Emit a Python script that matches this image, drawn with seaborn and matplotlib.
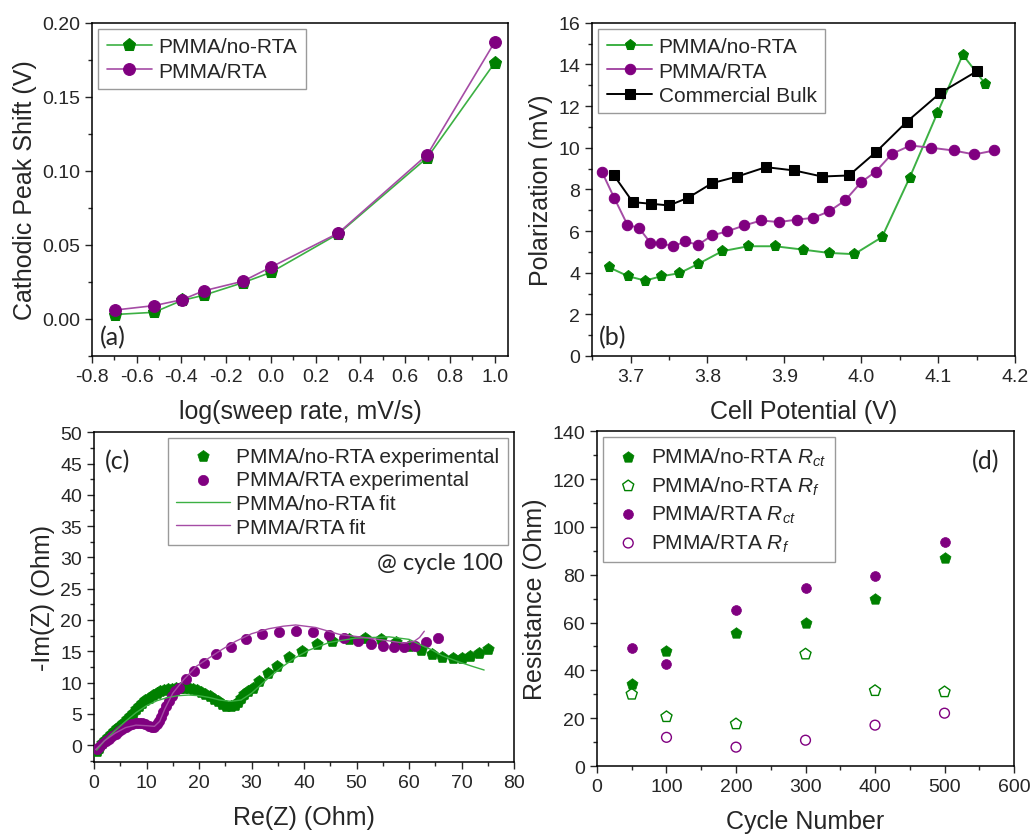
import matplotlib
matplotlib.use("Agg")
import matplotlib.pyplot as plt
from matplotlib.ticker import MultipleLocator
import seaborn as sns

#---------------------------------------------------------------------------------
#  Data
#---------------------------------------------------------------------------------
# (a) cathodic peak shift vs log(sweep rate)
logRate=[-0.699,-0.523,-0.398,-0.301,-0.125,0.0,0.301,0.699,1.0]
shiftNoRTA=[0.003,0.0045,0.0125,0.016,0.0245,0.0315,0.0575,0.109,0.173]
shiftRTA=[0.006,0.009,0.013,0.019,0.0255,0.035,0.058,0.111,0.187]

# (b) polarization vs cell potential
potNoRTA=[3.672,3.697,3.719,3.740,3.763,3.788,3.819,3.853,3.888,3.924,3.958,3.991,4.027,4.063,4.099,4.132,4.161]
polNoRTA=[4.26,3.83,3.62,3.83,3.97,4.42,5.03,5.27,5.27,5.11,4.95,4.89,5.71,8.57,11.67,14.47,13.08]
potRTA=[3.663,3.679,3.696,3.711,3.726,3.740,3.755,3.771,3.788,3.806,3.826,3.848,3.870,
        3.893,3.916,3.937,3.958,3.979,4.000,4.019,4.040,4.064,4.091,4.120,4.147,4.173]
polRTA=[8.83,7.58,6.30,6.15,5.43,5.43,5.26,5.50,5.34,5.79,5.99,6.27,6.51,
        6.43,6.55,6.63,6.94,7.47,8.35,8.86,9.71,10.11,10.00,9.87,9.68,9.87]
potBulk=[3.678,3.703,3.727,3.750,3.775,3.806,3.839,3.876,3.913,3.949,3.984,4.019,4.059,4.103,4.150]
polBulk=[8.70,7.39,7.31,7.23,7.60,8.30,8.62,9.07,8.91,8.62,8.67,9.79,11.24,12.64,13.67]

# (c) Nyquist plot at cycle 100
reNoRTA=[0.5,1.0,1.5,2.0,2.6,3.2,3.8,4.4,5.0,5.6,6.2,6.8,7.4,8.0,8.6,9.2,9.8,10.5,11.2,11.9,
         12.6,13.3,14.0,14.8,15.6,16.4,17.2,18.0,18.8,19.6,20.4,21.2,22.0,22.8,23.6,24.4,25.2,
         26.0,26.8,27.4,28.0,28.6,29.3,30.2,31.5,33.2,34.9,37.1,39.7,42.5,45.4,48.5,51.6,54.6,
         57.5,60.0,62.2,64.3,66.3,68.3,70.0,71.6,73.3,75.1]
imNoRTA=[-0.9,-0.4,0.3,0.8,1.3,1.8,2.2,2.7,3.1,3.6,4.1,4.7,5.2,5.7,6.3,6.8,7.2,7.6,8.0,8.3,
         8.6,8.8,8.9,9.0,9.1,9.2,9.2,9.1,9.0,8.8,8.5,8.2,7.8,7.4,7.0,6.6,6.3,
         6.2,6.4,6.9,7.5,8.1,8.7,9.2,10.3,11.5,12.7,14.1,15.1,16.1,16.6,17.0,17.1,16.9,
         16.5,15.8,15.2,14.6,14.1,13.9,14.0,14.3,14.8,15.4]
reRTA=[0.5,1.0,1.6,2.2,2.9,3.5,4.1,4.7,5.4,6.0,6.7,7.3,7.9,8.5,9.2,9.8,10.5,11.0,11.5,12.0,
       12.4,12.8,13.2,13.7,14.2,14.8,15.5,16.2,17.5,19.0,21.0,23.2,26.0,28.9,31.9,35.2,38.5,
       41.7,44.8,47.7,50.2,52.7,55.0,57.1,59.0,61.1,63.2,65.6]
imRTA=[-0.6,-0.3,0.2,0.6,1.0,1.4,1.8,2.2,2.5,2.9,3.2,3.4,3.5,3.5,3.5,3.3,3.1,2.9,2.9,3.3,
       3.8,4.5,5.3,6.2,7.0,7.8,8.6,9.2,10.5,11.8,13.2,14.6,15.7,16.9,17.7,18.1,18.2,
       18.1,17.6,17.1,16.7,16.2,15.8,15.7,15.7,15.8,16.4,17.1]
reFitNoRTA=[0.5,2.0,4.0,6.0,8.0,10.0,12.0,14.0,16.0,18.0,20.0,22.0,24.0,26.0,28.0,30.0,33.3,
            36.0,38.4,41.0,44.8,49.8,56.2,60.0,62.5,64.4,66.3,69.5,72.0,74.3]
imFitNoRTA=[-0.8,0.7,2.3,3.8,5.2,6.3,7.1,7.6,7.9,8.0,7.9,7.6,7.2,7.0,7.2,8.3,10.8,
            12.6,14.0,15.2,16.4,17.1,17.3,16.9,15.9,15.2,14.3,13.3,12.6,12.0]
reFitRTA=[0.3,2.0,4.0,6.0,8.0,10.0,11.5,12.5,13.5,15.0,17.0,19.5,21.3,24.4,27.0,30.0,33.3,
          36.0,38.4,42.2,46.7,50.5,55.0,59.0,61.0,62.0,62.9]
imFitRTA=[-0.7,0.7,1.9,2.8,3.2,3.1,3.0,3.8,5.8,8.3,10.4,12.6,13.6,15.3,16.6,17.8,18.6,
          19.0,19.2,18.8,17.7,17.3,16.8,16.3,16.6,17.2,18.2]

# (d) resistances vs cycle number
cycles=[50,100,200,300,400,500]
rctNoRTA=[34.5,48.0,55.5,60.0,69.8,87.0]
rfNoRTA=[30.0,20.6,17.6,46.8,31.5,31.0]
rctRTA=[49.5,42.5,65.2,74.3,79.4,93.6]
cyclesRfRTA=[100,200,300,400,500]
rfRTA=[12.0,7.9,10.8,17.1,22.1]

GREEN="#008000"
PURPLE="#800080"
GREEN_LINE="#3cb043"
PURPLE_LINE="#a54ca5"
TEXT_FONT=["Lato","DejaVu Sans"]

#---------------------------------------------------------------------------------
#  Common axis styling
#---------------------------------------------------------------------------------
def styleAxis(ax,xMajor,xMinor,yMajor,yMinor):
    ax.xaxis.set_major_locator(MultipleLocator(xMajor))
    ax.xaxis.set_minor_locator(MultipleLocator(xMinor))
    ax.yaxis.set_major_locator(MultipleLocator(yMajor))
    ax.yaxis.set_minor_locator(MultipleLocator(yMinor))
    ax.tick_params(which="both",direction="out",top=False,right=False,labelsize=14,width=1.0)
    ax.tick_params(which="major",length=5)
    ax.tick_params(which="minor",length=3)
    for spine in ax.spines.values():
        spine.set_visible(True)
        spine.set_linewidth(1.1)
        spine.set_color("black")

def addLegend(ax,handleLength=2.2,**kw):
    leg=ax.legend(fontsize=15,frameon=True,fancybox=False,framealpha=1,edgecolor="#9a9a9a",
                  handlelength=handleLength,handletextpad=0.3,borderaxespad=0.3,**kw)
    leg.get_frame().set_linewidth(1.0)
    return leg

#---------------------------------------------------------------------------------
#  Panel (a)
#---------------------------------------------------------------------------------
def plotPeakShift(ax):
    sns.lineplot(x=logRate,y=shiftNoRTA,ax=ax,color=GREEN_LINE,lw=1.2,marker="p",markersize=9.5,
                 markerfacecolor=GREEN,markeredgecolor=GREEN,label="PMMA/no-RTA")
    sns.lineplot(x=logRate,y=shiftRTA,ax=ax,color=PURPLE_LINE,lw=1.2,marker="o",markersize=8.5,
                 markerfacecolor=PURPLE,markeredgecolor=PURPLE,label="PMMA/RTA")
    ax.set_xlim(-0.8,1.06)
    ax.set_ylim(-0.025,0.2)
    styleAxis(ax,0.2,0.1,0.05,0.025)
    ax.set_xlabel("log(sweep rate, mV/s)",fontsize=18,labelpad=10)
    ax.set_ylabel("Cathodic Peak Shift (V)",fontsize=18,labelpad=4)
    addLegend(ax,loc="upper left",labelspacing=0.25)
    ax.text(0.02,0.057,"(a)",transform=ax.transAxes,fontsize=18,family=TEXT_FONT,va="center")

#---------------------------------------------------------------------------------
#  Panel (b)
#---------------------------------------------------------------------------------
def plotPolarization(ax):
    sns.lineplot(x=potNoRTA,y=polNoRTA,ax=ax,color=GREEN_LINE,lw=1.4,marker="p",markersize=8,
                 markerfacecolor=GREEN,markeredgecolor=GREEN,label="PMMA/no-RTA")
    sns.lineplot(x=potRTA,y=polRTA,ax=ax,color=PURPLE_LINE,lw=1.4,marker="o",markersize=7.5,
                 markerfacecolor=PURPLE,markeredgecolor=PURPLE,label="PMMA/RTA")
    sns.lineplot(x=potBulk,y=polBulk,ax=ax,color="black",lw=1.4,marker="s",markersize=6.5,
                 markerfacecolor="black",markeredgecolor="black",label="Commercial Bulk")
    ax.set_xlim(3.65,4.2)
    ax.set_ylim(0,16)
    styleAxis(ax,0.1,0.05,2,1)
    ax.set_xlabel("Cell Potential (V)",fontsize=18,labelpad=10)
    ax.set_ylabel("Polarization (mV)",fontsize=18,labelpad=4)
    addLegend(ax,loc="upper left",labelspacing=0.25)
    ax.text(0.015,0.057,"(b)",transform=ax.transAxes,fontsize=18,family=TEXT_FONT,va="center")

#---------------------------------------------------------------------------------
#  Panel (c)
#---------------------------------------------------------------------------------
def plotNyquist(ax):
    sns.scatterplot(x=reNoRTA,y=imNoRTA,ax=ax,marker="p",s=75,color=GREEN,edgecolor=GREEN,
                    linewidth=0.5,label="PMMA/no-RTA experimental",zorder=3)
    sns.scatterplot(x=reRTA,y=imRTA,ax=ax,marker="o",s=55,color=PURPLE,edgecolor=PURPLE,
                    linewidth=0.5,label="PMMA/RTA experimental",zorder=3)
    sns.lineplot(x=reFitNoRTA,y=imFitNoRTA,ax=ax,sort=False,estimator=None,color=GREEN_LINE,
                 lw=1.0,label="PMMA/no-RTA fit",zorder=4)
    sns.lineplot(x=reFitRTA,y=imFitRTA,ax=ax,sort=False,estimator=None,color=PURPLE_LINE,
                 lw=1.0,label="PMMA/RTA fit",zorder=4)
    ax.set_xlim(0,80)
    ax.set_ylim(-2.7,50)
    styleAxis(ax,10,5,5,2.5)
    ax.set_xlabel("Re(Z) (Ohm)",fontsize=18,labelpad=10)
    ax.set_ylabel("-Im(Z) (Ohm)",fontsize=18,labelpad=4)
    addLegend(ax,handleLength=2.6,loc="upper right",labelspacing=0.22)
    ax.text(0.026,0.915,"(c)",transform=ax.transAxes,fontsize=18,family=TEXT_FONT,va="center")
    ax.text(0.974,0.606,"@ cycle 100",transform=ax.transAxes,fontsize=17,family=TEXT_FONT,
            va="center",ha="right")

#---------------------------------------------------------------------------------
#  Panel (d)
#---------------------------------------------------------------------------------
def plotResistance(ax):
    sns.scatterplot(x=cycles,y=rctNoRTA,ax=ax,marker="p",s=70,color=GREEN,edgecolor=GREEN,
                    linewidth=0.5,label="PMMA/no-RTA $R_{ct}$")
    sns.scatterplot(x=cycles,y=rfNoRTA,ax=ax,marker="p",s=70,color=GREEN,facecolor="none",
                    edgecolor=GREEN,linewidth=1.0,label="PMMA/no-RTA $R_{f}$")
    sns.scatterplot(x=cycles,y=rctRTA,ax=ax,marker="o",s=50,color=PURPLE,edgecolor=PURPLE,
                    linewidth=0.5,label="PMMA/RTA $R_{ct}$")
    sns.scatterplot(x=cyclesRfRTA,y=rfRTA,ax=ax,marker="o",s=50,color=PURPLE,facecolor="none",
                    edgecolor=PURPLE,linewidth=1.0,label="PMMA/RTA $R_{f}$")
    ax.set_xlim(0,600)
    ax.set_ylim(0,140)
    styleAxis(ax,100,50,20,10)
    ax.set_xlabel("Cycle Number",fontsize=18,labelpad=10)
    ax.set_ylabel("Resistance (Ohm)",fontsize=18,labelpad=4)
    addLegend(ax,handleLength=1.6,loc="upper left",labelspacing=0.3)
    ax.text(0.966,0.913,"(d)",transform=ax.transAxes,fontsize=18,family=TEXT_FONT,
            va="center",ha="right")

#---------------------------------------------------------------------------------
#  Main function
#---------------------------------------------------------------------------------
def main():
    sns.set_style("ticks")
    plt.rcParams["font.family"]=["Liberation Sans","DejaVu Sans"]
    plt.rcParams["axes.unicode_minus"]=False
    plt.rcParams["mathtext.fontset"]="custom"
    plt.rcParams["mathtext.rm"]="Liberation Sans"
    plt.rcParams["mathtext.it"]="Liberation Sans:italic"

    fig=plt.figure(figsize=(10.3,8.37),dpi=100)
    axA=fig.add_axes([0.0893,0.5735,0.404,0.398])
    axB=fig.add_axes([0.5748,0.5735,0.4107,0.398])
    axC=fig.add_axes([0.0913,0.0884,0.4078,0.394])
    axD=fig.add_axes([0.5796,0.0836,0.4049,0.400])

    plotPeakShift(axA)
    plotPolarization(axB)
    plotNyquist(axC)
    plotResistance(axD)

    fig.savefig("out.png",dpi=100)

if __name__=="__main__":
    main()
